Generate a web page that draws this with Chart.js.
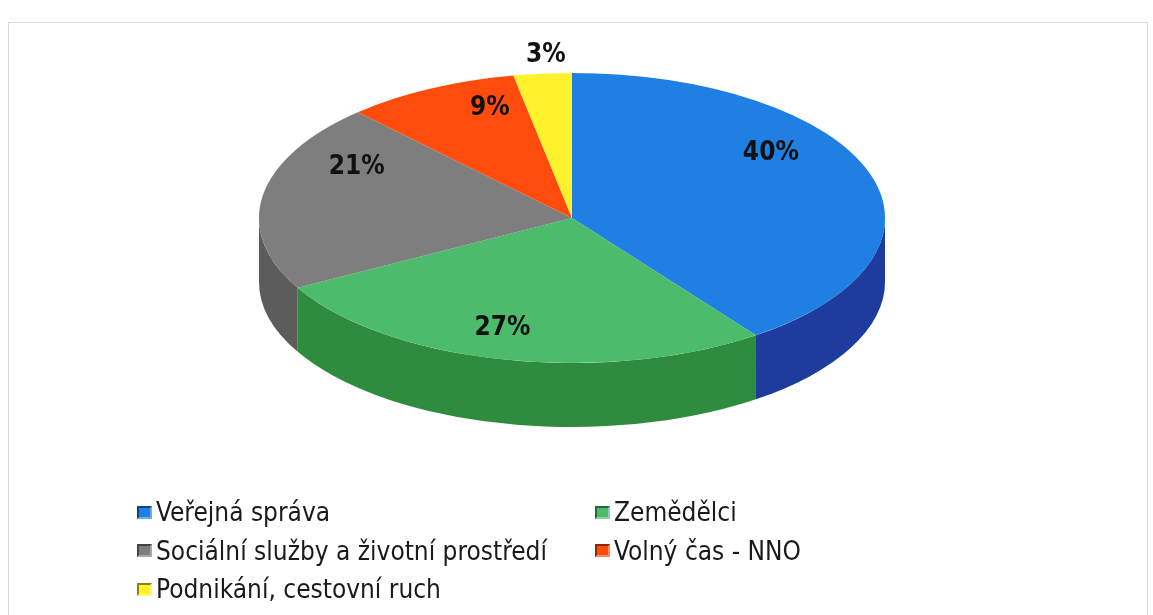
<!DOCTYPE html>
<html>
<head>
<meta charset="utf-8">
<script src="https://cdn.jsdelivr.net/npm/chart.js@4/dist/chart.umd.min.js"></script>
<style>
  html, body { margin: 0; padding: 0; background: #ffffff; }
  #wrap { position: relative; width: 1153px; height: 615px; overflow: hidden; background: #fff; }
  #frame { position: absolute; left: 8px; top: 22px; width: 1140px; height: 600px; border: 1px solid #dcdcdc; box-sizing: border-box; }
  #c { position: absolute; left: 0; top: 0; }
  #legend { position: absolute; left: 137px; top: 493px; display: grid; grid-template-columns: 458px 300px;
            font-family: 'DejaVu Sans Condensed', 'Liberation Sans', sans-serif; font-size: 26px; color: #1a1a1a; }
  .item { display: flex; align-items: center; height: 38.5px; white-space: nowrap; }
  .box { width: 15px; height: 13px; margin-right: 4px; box-sizing: border-box; border: 2px solid rgba(0,0,0,0.45); border-right-color: rgba(255,255,255,0.35); border-bottom-color: rgba(255,255,255,0.35); }
</style>
</head>
<body>
<div id="wrap">
  <div id="frame"></div>
  <canvas id="c" width="1153" height="615"></canvas>
  <div id="legend"></div>
</div>
<script>
const categories = ['Veřejná správa', 'Zemědělci', 'Sociální služby a životní prostředí', 'Volný čas - NNO', 'Podnikání, cestovní ruch'];
const shares = [40, 27, 21, 9, 3];
const valueLabels = ['40%', '27%', '21%', '9%', '3%'];
const topColors = ['#1f7fe2', '#4dbb6c', '#7e7e7e', '#ff4c0c', '#fff12c'];
const sideColors = ['#1d3c9e', '#2f8c3e', '#5c5c5c', '#c83408', '#c8bb10'];

// geometry of the tilted pie (screen)
const CX = 572, CY = 218, RX = 313, RY = 145, DEPTH = 64;
// label placement (simple perspective of the disk)
const LY0 = 183, LKY = 106, LKX = 228, LP = 0.2925;

function labelPoint(angle, f) {
  const u = Math.cos(angle) * f, v = Math.sin(angle) * f;
  const s = 1 / (1 - LP * v);
  return { x: CX + LKX * u * s, y: LY0 + LKY * v * s };
}

const tiltPlugin = {
  id: 'tilt',
  beforeDatasetsDraw(chart) {
    const ctx = chart.ctx;
    const meta = chart.getDatasetMeta(0);
    meta.data.forEach((arc, i) => {
      const a1 = Math.max(arc.startAngle, 0);
      const a2 = Math.min(arc.endAngle, Math.PI);
      if (a2 <= a1) return;
      ctx.save();
      ctx.fillStyle = sideColors[i];
      ctx.beginPath();
      ctx.ellipse(CX, CY, RX, RY, 0, a1, a2, false);
      ctx.lineTo(CX + RX * Math.cos(a2), CY + DEPTH + RY * Math.sin(a2));
      ctx.ellipse(CX, CY + DEPTH, RX, RY, 0, a2, a1, true);
      ctx.closePath();
      ctx.fill();
      ctx.restore();
    });
    const a0 = meta.data[0];
    const R = a0.outerRadius;
    ctx.save();
    ctx.translate(CX, CY);
    ctx.scale(RX / R, RY / R);
    ctx.translate(-a0.x, -a0.y);
  },
  afterDatasetsDraw(chart) {
    const ctx = chart.ctx;
    ctx.restore();
    const meta = chart.getDatasetMeta(0);
    ctx.save();
    ctx.fillStyle = '#111';
    ctx.font = "bold 26px 'DejaVu Sans Condensed', sans-serif";
    ctx.textAlign = 'center';
    ctx.textBaseline = 'middle';
    meta.data.forEach((arc, i) => {
      const mid = (arc.startAngle + arc.endAngle) / 2;
      const f = shares[i] < 5 ? 1.88 : 1;
      const p = labelPoint(mid, f);
      ctx.fillText(valueLabels[i], p.x, p.y);
    });
    ctx.restore();
  }
};

new Chart(document.getElementById('c'), {
  type: 'pie',
  data: {
    labels: categories,
    datasets: [{ data: shares, backgroundColor: topColors, borderWidth: 0, clip: false }]
  },
  options: {
    responsive: false,
    animation: false,
    events: [],
    plugins: { legend: { display: false }, tooltip: { enabled: false } }
  },
  plugins: [tiltPlugin]
});

const legend = document.getElementById('legend');
categories.forEach((name, i) => {
  const it = document.createElement('div');
  it.className = 'item';
  const b = document.createElement('span');
  b.className = 'box';
  b.style.background = topColors[i];
  const t = document.createElement('span');
  t.textContent = name;
  it.appendChild(b); it.appendChild(t);
  legend.appendChild(it);
});
</script>
</body>
</html>
